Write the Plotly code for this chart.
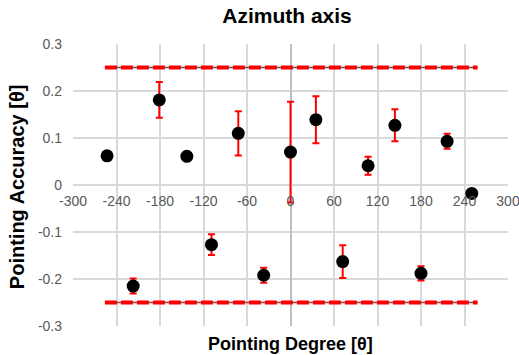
import plotly.graph_objects as go

# Data
degree = [-253, -181, -143, -72, 0, 35, 107, 144, 216, 250, -217, -109, -37, 72, 180]
accuracy = [0.062, 0.181, 0.061, 0.110, 0.070, 0.139, 0.041, 0.127, 0.093, -0.018,
            -0.215, -0.127, -0.192, -0.163, -0.188]
error = [0.004, 0.038, 0.004, 0.047, 0.107, 0.050, 0.019, 0.034, 0.016, 0.004,
         0.016, 0.022, 0.016, 0.035, 0.015]
limit_x = [-256, 258]
upper_limit = [0.25, 0.25]
lower_limit = [-0.25, -0.25]
x_ticks = [-300, -240, -180, -120, -60, 0, 60, 120, 180, 240, 300]
y_ticks = [-0.3, -0.2, -0.1, 0, 0.1, 0.2, 0.3]
y_tick_labels = ["-0.3", "-0.2", "-0.1", "0", "0.1", "0.2", "0.3"]

fig = go.Figure()

for lim in (upper_limit, lower_limit):
    fig.add_trace(go.Scatter(x=limit_x, y=lim, mode="lines",
                             line=dict(color="#595959", width=1.5),
                             showlegend=False, hoverinfo="skip"))
    fig.add_trace(go.Scatter(x=limit_x, y=lim, mode="lines",
                             line=dict(color="#ff0000", width=4, dash="12px,4px"),
                             showlegend=False, hoverinfo="skip"))

fig.add_trace(go.Scatter(
    x=degree, y=accuracy, mode="markers",
    marker=dict(color="black", size=13),
    error_y=dict(type="data", array=error, visible=True,
                 color="#ff0000", thickness=2, width=3.5),
    showlegend=False))

font_family = "Liberation Sans, Arial, sans-serif"

fig.update_layout(
    width=519, height=355,
    margin=dict(l=73, r=11, t=44, b=29, autoexpand=False),
    plot_bgcolor="white", paper_bgcolor="white",
    font=dict(family=font_family, color="#595959", size=14),
    title=dict(text="<b>Azimuth axis</b>", x=0.553, xanchor="center",
               y=0.955, yanchor="middle",
               font=dict(size=21, color="#000000", family=font_family)),
    xaxis=dict(range=[-300, 300], tickvals=x_ticks,
               ticktext=[str(v) for v in x_ticks],
               showgrid=True, gridcolor="#d9d9d9", gridwidth=1.5,
               zeroline=True, zerolinecolor="#bfbfbf", zerolinewidth=2,
               anchor="free", position=0.5, showline=False, automargin=False,
               ticks="", ticklabelstandoff=6, ticklabeloverflow="allow",
               tickfont=dict(size=14, color="#595959")),
    yaxis=dict(range=[-0.3, 0.3], tickvals=y_ticks, ticktext=y_tick_labels,
               showgrid=True, gridcolor="#d9d9d9", gridwidth=1.5,
               zeroline=True, zerolinecolor="#d9d9d9", zerolinewidth=1.5,
               showline=False, ticks="", ticklabelstandoff=10, automargin=False,
               tickfont=dict(size=14, color="#595959")),
    annotations=[
        dict(text="<b>Pointing Degree [θ]</b>", xref="paper", yref="paper",
             x=0.5, y=-0.022, xanchor="center", yanchor="top", showarrow=False,
             font=dict(size=18, color="#000000", family=font_family)),
        dict(text="<b>Pointing Accuracy [θ]</b>", xref="paper", yref="paper",
             x=-0.127, y=0.495, xanchor="center", yanchor="middle",
             textangle=-90, showarrow=False,
             font=dict(size=20, color="#000000", family=font_family)),
    ],
)

fig.write_html("out.html")
